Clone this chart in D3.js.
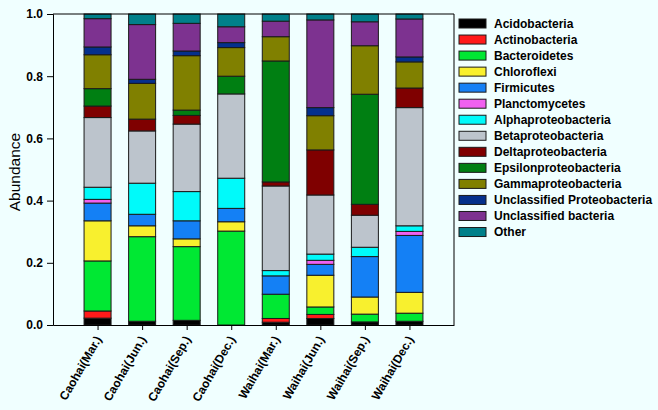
<!DOCTYPE html>
<html><head><meta charset="utf-8">
<script src="https://cdn.jsdelivr.net/npm/d3@7"></script>
<style>html,body{margin:0;padding:0;background:#f0ffff;}svg{display:block;}</style>
</head><body>
<svg id="chart" width="658" height="410"></svg>
<script>
const samples = ["Caohai(Mar.)","Caohai(Jun.)","Caohai(Sep.)","Caohai(Dec.)","Waihai(Mar.)","Waihai(Jun.)","Waihai(Sep.)","Waihai(Dec.)"];
const taxa = ["Acidobacteria","Actinobacteria","Bacteroidetes","Chloroflexi","Firmicutes","Planctomycetes","Alphaproteobacteria","Betaproteobacteria","Deltaproteobacteria","Epsilonproteobacteria","Gammaproteobacteria","Unclassified Proteobacteria","Unclassified bacteria","Other"];
const colors = ["#000000","#ff1a1a","#00e833","#f8f02e","#1480f5","#f060f0","#00fafa","#bcc4cc","#7f0000","#007f12","#808000","#05308c","#7d3290","#00808a"];
// values per sample, in taxa order
const Acidobacteria        = [0.022,0.012,0.015,0.000,0.009,0.021,0.010,0.012];
const Actinobacteria       = [0.023,0.000,0.000,0.000,0.012,0.013,0.000,0.000];
const Bacteroidetes        = [0.161,0.272,0.237,0.302,0.078,0.024,0.025,0.026];
const Chloroflexi          = [0.129,0.035,0.025,0.030,0.000,0.102,0.055,0.067];
const Firmicutes           = [0.057,0.037,0.058,0.043,0.059,0.035,0.130,0.183];
const Planctomycetes       = [0.012,0.000,0.000,0.000,0.000,0.013,0.000,0.013];
const Alphaproteobacteria  = [0.039,0.100,0.094,0.097,0.017,0.020,0.030,0.018];
const Betaproteobacteria   = [0.224,0.168,0.217,0.271,0.272,0.190,0.103,0.380];
const Deltaproteobacteria  = [0.037,0.038,0.028,0.000,0.013,0.145,0.035,0.063];
const Epsilonproteobacteria= [0.056,0.000,0.017,0.057,0.389,0.000,0.354,0.000];
const Gammaproteobacteria  = [0.109,0.115,0.175,0.092,0.078,0.110,0.156,0.084];
const UnclassifiedProteo   = [0.025,0.013,0.015,0.016,0.000,0.026,0.000,0.016];
const UnclassifiedBacteria = [0.091,0.176,0.089,0.051,0.050,0.282,0.077,0.122];
const Other                = [0.015,0.034,0.030,0.041,0.023,0.019,0.025,0.016];
const seriesValues = [Acidobacteria,Actinobacteria,Bacteroidetes,Chloroflexi,Firmicutes,Planctomycetes,Alphaproteobacteria,Betaproteobacteria,Deltaproteobacteria,Epsilonproteobacteria,Gammaproteobacteria,UnclassifiedProteo,UnclassifiedBacteria,Other];
const yTicks = [0,0.2,0.4,0.6,0.8,1.0];

const rows = samples.map((s,i)=>{const r={sample:s};taxa.forEach((t,k)=>r[t]=seriesValues[k][i]);return r;});
const stack = d3.stack().keys(taxa)(rows);

const FONT = "Liberation Sans, Arial, sans-serif";
const svg = d3.select("#chart");
const L=53,R=454,T=14,B=325;
const x = d3.scalePoint().domain(samples).range([L,R]).padding(1);
const y = d3.scaleLinear().domain([0,1]).range([B,T]);
const color = d3.scaleOrdinal().domain(taxa).range(colors);
const bw = 27;

const g = svg.append("g");
stack.forEach(layer=>{
  g.append("g").selectAll("rect").data(layer.filter(d=>d[1]-d[0]>0)).join("rect")
    .attr("x",d=>x(d.data.sample)-bw/2)
    .attr("width",bw)
    .attr("y",d=>y(Math.min(d[1],1)))
    .attr("height",d=>y(d[0])-y(Math.min(d[1],1)))
    .attr("fill",color(layer.key))
    .attr("stroke","#1a1a1a").attr("stroke-width",1);
});

// frame
svg.append("line").attr("x1",L).attr("x2",R).attr("y1",T).attr("y2",T).attr("stroke","#000");
svg.append("line").attr("x1",R).attr("x2",R).attr("y1",T).attr("y2",B).attr("stroke","#000");

const yAxis = svg.append("g").attr("transform",`translate(${L},0)`)
  .call(d3.axisLeft(y).tickValues(yTicks).tickFormat(d3.format(".1f")).tickSize(6).tickPadding(4));
yAxis.selectAll("text").style("font-family",FONT).style("font-weight","bold").style("font-size","12px").attr("fill","#000");
yAxis.selectAll("line,path").attr("stroke","#000");

const xAxis = svg.append("g").attr("transform",`translate(0,${B})`)
  .call(d3.axisBottom(x).tickSize(5).tickSizeOuter(0));
xAxis.selectAll("line,path").attr("stroke","#000");
xAxis.selectAll("text")
  .style("font-family",FONT).style("font-weight","bold").style("font-size","12px").attr("fill","#000")
  .attr("text-anchor","end").attr("dy",null).attr("y",0)
  .attr("transform","translate(4,14) rotate(-60)");

svg.append("text").attr("transform",`translate(20,172) rotate(-90)`)
  .attr("text-anchor","middle").style("font-family",FONT).style("font-size","15.5px")
  .text("Abundance");

const leg = svg.append("g");
taxa.forEach((t,k)=>{
  const yy = 23.5 + k*16.04;
  leg.append("rect").attr("x",459).attr("y",yy-4.5).attr("width",27).attr("height",9).attr("fill",colors[k]).attr("stroke","#1a1a1a").attr("stroke-width",1);
  leg.append("text").attr("x",494).attr("y",yy).attr("dy","0.36em").style("font-family",FONT).style("font-weight","bold").style("font-size","12px").text(t);
});
</script>
</body></html>
